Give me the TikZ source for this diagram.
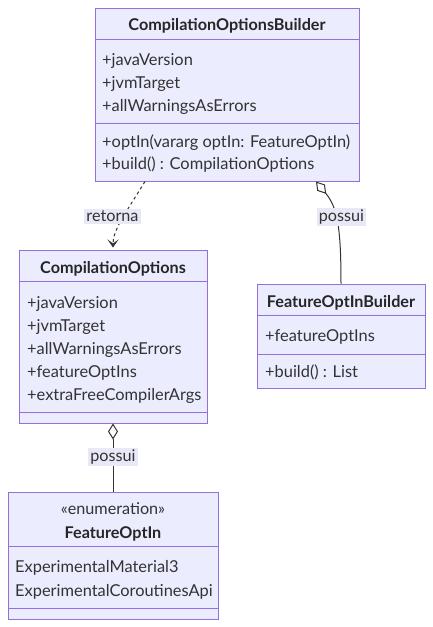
\documentclass[tikz,border=0pt]{standalone}
\usepackage{fontspec}
\setmainfont{Lato}
\usetikzlibrary{arrows.meta}
\definecolor{boxfill}{HTML}{ECECFF}
\definecolor{boxline}{HTML}{9370DB}
\definecolor{txtc}{HTML}{333333}
\definecolor{lblfill}{HTML}{E8E8F6}
\begin{document}
\begin{tikzpicture}[x=1pt,y=-1pt,
  cls/.style={draw=boxline,fill=boxfill,line width=1pt,inner sep=0pt},
  sepline/.style={draw=boxline,line width=1pt},
  txt/.style={anchor=base west,inner sep=0pt,text=txtc,font=\fontsize{16.4}{19}\selectfont},
  ttl/.style={anchor=base,inner sep=0pt,text=black!85,font=\fontsize{16.2}{19}\selectfont\bfseries},
  ster/.style={anchor=base,inner sep=0pt,text=txtc,font=\fontsize{16.2}{19}\selectfont},
  lbl/.style={fill=lblfill,inner sep=2pt,text=txtc,font=\fontsize{16.2}{19}\selectfont},
  rel/.style={draw=txtc,line width=1pt},
  depline/.style={rel,dash pattern=on 3pt off 3pt,-{Stealth[length=8pt,width=11pt,inset=4pt]}},
  aggline/.style={rel,{Diamond[fill=white,length=16pt,width=10pt,line width=1pt]}-}
]
\useasboundingbox (0,0) rectangle (433,627);
\fill[white] (0,0) rectangle (433,627);

% Box 1
\node[cls,minimum width=264pt,minimum height=173pt] (b1) at (227,94.5) {};
\draw[sepline] (b1.west |- 0,39) -- (b1.east |- 0,39);
\draw[sepline] (b1.west |- 0,123) -- (b1.east |- 0,123);
\node[ttl] (b1t) at (227,30) {CompilationOptionsBuilder};
\node[txt] (b1a1) at (102,65) {+javaVersion};
\node[txt] (b1a2) at (102,88) {+jvmTarget};
\node[txt] (b1a3) at (102,111) {+allWarningsAsErrors};
\node[txt] (b1m1) at (102,147) {+optIn(vararg optIn: FeatureOptIn)};
\node[txt] (b1m2) at (102,169) {+build() : CompilationOptions};

% Box 2
\node[cls,minimum width=188pt,minimum height=173pt] (b2) at (113,336.5) {};
\draw[sepline] (b2.west |- 0,281) -- (b2.east |- 0,281);
\draw[sepline] (b2.west |- 0,412) -- (b2.east |- 0,412);
\node[ttl] (b2t) at (113,273) {CompilationOptions};
\node[txt] (b2a1) at (27,308) {+javaVersion};
\node[txt] (b2a2) at (27,331) {+jvmTarget};
\node[txt] (b2a3) at (27,354) {+allWarningsAsErrors};
\node[txt] (b2a4) at (27,377) {+featureOptIns};
\node[txt] (b2a5) at (27,400) {+extraFreeCompilerArgs};

% Box 3
\node[cls,minimum width=168pt,minimum height=104pt] (b3) at (341,336) {};
\draw[sepline] (b3.west |- 0,315) -- (b3.east |- 0,315);
\draw[sepline] (b3.west |- 0,354) -- (b3.east |- 0,354);
\node[ttl] (b3t) at (341,307) {FeatureOptInBuilder};
\node[txt] (b3a1) at (265,341) {+featureOptIns};
\node[txt] (b3m1) at (265,377) {+build() : List};

% Box 4
\node[cls,minimum width=210pt,minimum height=127pt] (b4) at (113,555.5) {};
\draw[sepline] (b4.west |- 0,546) -- (b4.east |- 0,546);
\draw[sepline] (b4.west |- 0,608) -- (b4.east |- 0,608);
\node[ster] (b4s) at (113,514) {«enumeration»};
\node[ttl] (b4t) at (113,538) {FeatureOptIn};
\node[txt] (b4a1) at (15,572) {ExperimentalMaterial3};
\node[txt] (b4a2) at (15,596) {ExperimentalCoroutinesApi};

% Edges
\draw[depline] ([xshift=-82pt]b1.south) .. controls (125,214) and (113,230) .. ([yshift=2pt]b2.north);
\draw[aggline] ([xshift=89pt]b1.south) .. controls (337,207) and (341,225) .. (b3.north);
\draw[aggline] (b2.south) -- (b4.north);

% Labels
\node[lbl] (l1) at (112.5,216) {retorna};
\node[lbl] (l2) at (341.5,217) {possui};
\node[lbl] (l3) at (113,457) {possui};
\end{tikzpicture}
\end{document}
